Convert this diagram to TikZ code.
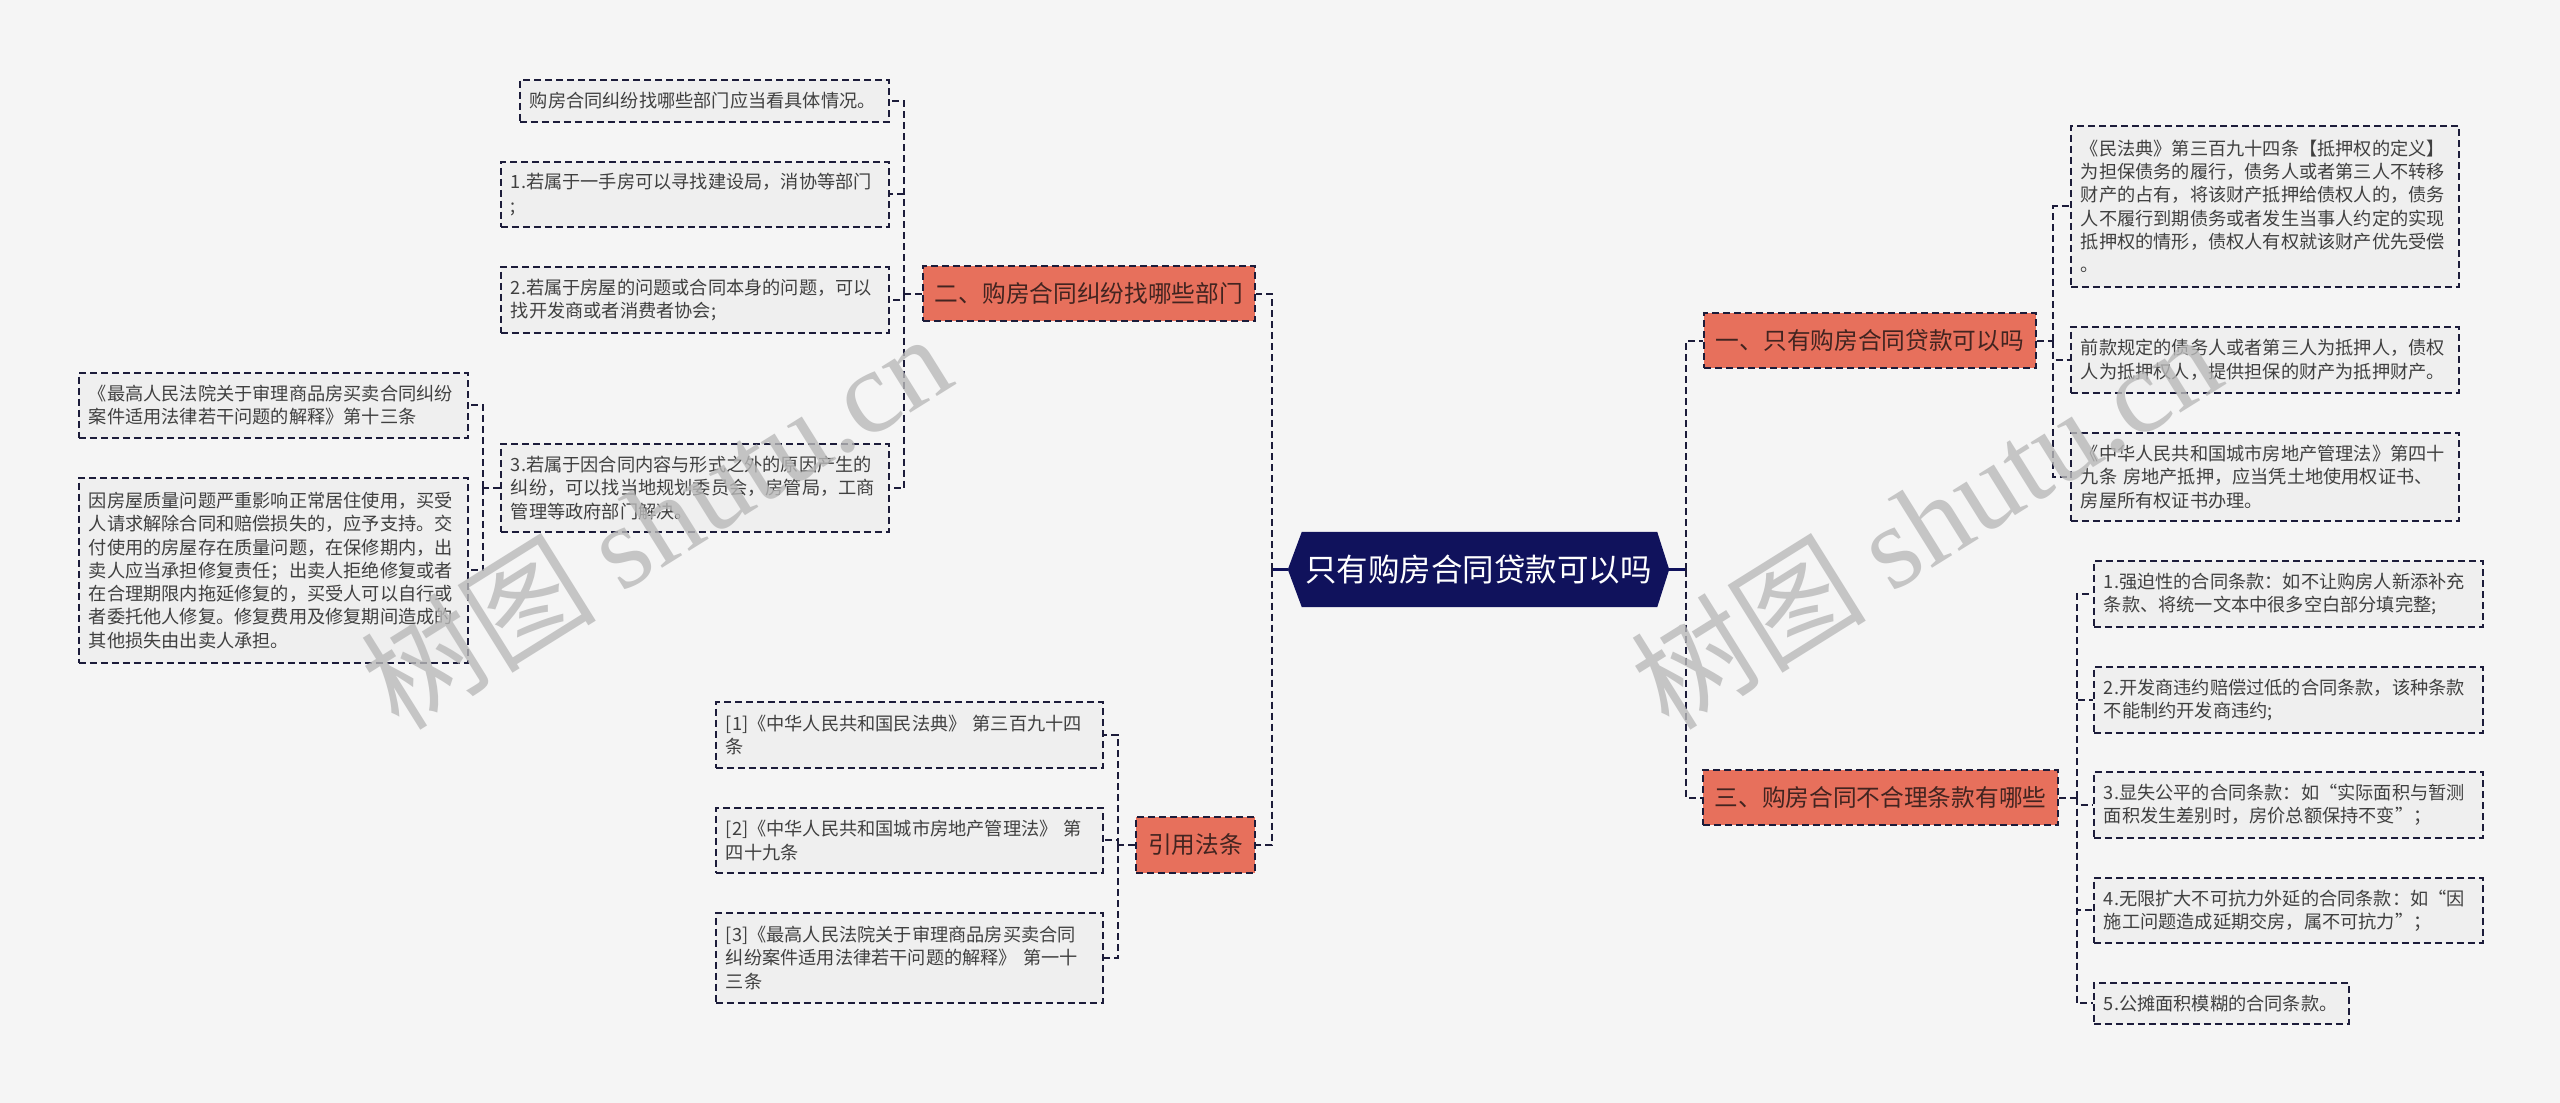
\documentclass[tikz,border=0pt]{standalone}
\usepackage{fontspec}
\newfontfamily\cjk{Noto Sans CJK SC}
\newfontfamily\wmfont{Liberation Serif}
\usetikzlibrary{positioning}
\pgfdeclarelayer{bg}
\pgfdeclarelayer{fg}
\pgfsetlayers{bg,main,fg}
\definecolor{pagebg}{RGB}{245,245,245}
\definecolor{rootfill}{RGB}{16,18,92}
\definecolor{branchfill}{RGB}{231,112,92}
\definecolor{branchtext}{RGB}{66,36,32}
\definecolor{leaffill}{RGB}{239,239,239}
\definecolor{leaftext}{RGB}{64,64,64}
\definecolor{linkc}{RGB}{28,28,58}
\definecolor{wmgray}{RGB}{185,185,185}

\begin{document}
\begin{tikzpicture}[x=1pt,y=-1pt,
  leaf/.style={draw=linkc,fill=leaffill,line width=1.8pt,dash pattern=on 7pt off 4pt,anchor=north west,align=left,inner xsep=10pt,inner ysep=3pt,text=leaftext,font=\cjk\fontsize{18.2pt}{23.3pt}\selectfont},
  branch/.style={draw=linkc,fill=branchfill,line width=1.8pt,dash pattern=on 7pt off 4pt,inner sep=0pt,text=branchtext,font=\cjk\fontsize{23.7pt}{28pt}\selectfont},
  link/.style={draw=linkc,line width=2pt,dash pattern=on 7pt off 4pt},
  rootlink/.style={draw=rootfill,line width=3pt},
  watermark/.style={rotate=32,text=wmgray,opacity=0.8,inner sep=0pt,font=\fontsize{118pt}{120pt}\selectfont}]

\useasboundingbox (0,0) rectangle (2560,1103);
\begin{pgfonlayer}{bg}
\fill [pagebg] (0,0) rectangle (2560,1103);
\end{pgfonlayer}

% root
\node (root) [minimum width=381pt,minimum height=75pt,inner sep=0pt,text=white,font=\cjk\fontsize{31.5pt}{36pt}\selectfont] at (1478.5,569.5) {只有购房合同贷款可以吗};
\begin{pgfonlayer}{bg}
\fill [rootfill] (root.west) -- ([xshift=14pt]root.north west) -- ([xshift=-12pt]root.north east) -- (root.east) -- ([xshift=-12pt]root.south east) -- ([xshift=14pt]root.south west) -- cycle;
\end{pgfonlayer}

% branches
\node (b2) [branch,minimum width=332pt,minimum height=55pt] at (1089,293.5) {二、购房合同纠纷找哪些部门};
\node (b3) [branch,minimum width=119pt,minimum height=56pt] at (1195.5,845) {引用法条};
\node (b1) [branch,minimum width=332pt,minimum height=55pt] at (1870,340.5) {一、只有购房合同贷款可以吗};
\node (b4) [branch,minimum width=355pt,minimum height=55pt] at (1880.5,797.5) {三、购房合同不合理条款有哪些};

% Text Node
\draw (519,79) node (a0) [leaf,text width=349pt,minimum height=42pt] {购房合同纠纷找哪些部门应当看具体情况。};
\draw (500,161) node (a1) [leaf,text width=368pt,minimum height=65pt] {1.若属于一手房可以寻找建设局，消协等部门\\;};
\draw (500,266) node (a2) [leaf,text width=368pt,minimum height=66pt] {2.若属于房屋的问题或合同本身的问题，可以\\找开发商或者消费者协会;};
\draw (500,443) node (a3) [leaf,text width=368pt,minimum height=88pt] {3.若属于因合同内容与形式之外的原因产生的\\纠纷，可以找当地规划委员会，房管局，工商\\管理等政府部门解决。};

\draw (78,372) node (s1) [leaf,text width=369pt,minimum height=65pt] {《最高人民法院关于审理商品房买卖合同纠纷\\案件适用法律若干问题的解释》第十三条};
\draw (78,477) node (s2) [leaf,text width=369pt,minimum height=185pt] {因房屋质量问题严重影响正常居住使用，买受\\人请求解除合同和赔偿损失的，应予支持。交\\付使用的房屋存在质量问题，在保修期内，出\\卖人应当承担修复责任；出卖人拒绝修复或者\\在合理期限内拖延修复的，买受人可以自行或\\者委托他人修复。修复费用及修复期间造成的\\其他损失由出卖人承担。};

\draw (715,701) node (c1) [leaf,text width=367pt,minimum height=66pt] {[1]《中华人民共和国民法典》 第三百九十四\\条};
\draw (715,807) node (c2) [leaf,text width=367pt,minimum height=65pt] {[2]《中华人民共和国城市房地产管理法》 第\\四十九条};
\draw (715,912) node (c3) [leaf,text width=367pt,minimum height=90pt] {[3]《最高人民法院关于审理商品房买卖合同\\纠纷案件适用法律若干问题的解释》 第一十\\三条};

\draw (2070,125) node (d1) [leaf,text width=368pt,minimum height=161pt] {《民法典》第三百九十四条【抵押权的定义】\\为担保债务的履行，债务人或者第三人不转移\\财产的占有，将该财产抵押给债权人的，债务\\人不履行到期债务或者发生当事人约定的实现\\抵押权的情形，债权人有权就该财产优先受偿\\。};
\draw (2070,326) node (d2) [leaf,text width=368pt,minimum height=66pt] {前款规定的债务人或者第三人为抵押人，债权\\人为抵押权人，提供担保的财产为抵押财产。};
\draw (2070,432) node (d3) [leaf,text width=368pt,minimum height=88pt] {《中华人民共和国城市房地产管理法》第四十\\九条 房地产抵押，应当凭土地使用权证书、\\房屋所有权证书办理。};

\draw (2093,560) node (e1) [leaf,text width=369pt,minimum height=66pt] {1.强迫性的合同条款：如不让购房人新添补充\\条款、将统一文本中很多空白部分填完整;};
\draw (2093,666) node (e2) [leaf,text width=369pt,minimum height=66pt] {2.开发商违约赔偿过低的合同条款，该种条款\\不能制约开发商违约;};
\draw (2093,771) node (e3) [leaf,text width=369pt,minimum height=66pt] {3.显失公平的合同条款：如“实际面积与暂测\\面积发生差别时，房价总额保持不变”；};
\draw (2093,877) node (e4) [leaf,text width=369pt,minimum height=65pt] {4.无限扩大不可抗力外延的合同条款：如“因\\施工问题造成延期交房，属不可抗力”；};
\draw (2093,982) node (e5) [leaf,text width=235pt,minimum height=41pt] {5.公摊面积模糊的合同条款。};

% connectors
\coordinate (lj) at ([xshift=-16pt]root.west);
\coordinate (rj) at ([xshift=17pt]root.east);
\draw [rootlink] (root.west) -- (lj);
\draw [rootlink] (root.east) -- (rj);
\draw [link] (lj) |- (b2.east);
\draw [link] (lj) |- (b3.east);
\draw [link] (rj) |- (b1.west);
\draw [link] (rj) |- (b4.west);

\coordinate (j2) at ([xshift=-18pt]b2.west);
\draw [link] (b2.west) -- (j2);
\draw [link] (j2) |- (a0.east);
\draw [link] (j2) |- (a1.east);
\draw [link] (j2) |- (a2.east);
\draw [link] (j2) |- (a3.east);

\coordinate (ja) at ([xshift=-17pt]a3.west);
\draw [link] (a3.west) -- (ja);
\draw [link] (ja) |- (s1.east);
\draw [link] (ja) |- (s2.east);

\coordinate (j3) at ([xshift=-17pt]b3.west);
\draw [link] (b3.west) -- (j3);
\draw [link] (j3) |- (c1.east);
\draw [link] (j3) |- (c2.east);
\draw [link] (j3) |- (c3.east);

\coordinate (j1) at ([xshift=16pt]b1.east);
\draw [link] (b1.east) -- (j1);
\draw [link] (j1) |- (d1.west);
\draw [link] (j1) |- (d2.west);
\draw [link] (j1) |- (d3.west);

\coordinate (j4) at ([xshift=18pt]b4.east);
\draw [link] (b4.east) -- (j4);
\draw [link] (j4) |- (e1.west);
\draw [link] (j4) |- (e2.west);
\draw [link] (j4) |- (e3.west);
\draw [link] (j4) |- (e4.west);
\draw [link] (j4) |- (e5.west);

% watermark
\begin{pgfonlayer}{fg}
\node (wm1) [watermark] at (655,520) {\cjk 树图 \wmfont shutu.cn};
\node (wm2) [watermark] at (1925,520) {\cjk 树图 \wmfont shutu.cn};
\end{pgfonlayer}

\end{tikzpicture}
\end{document}
